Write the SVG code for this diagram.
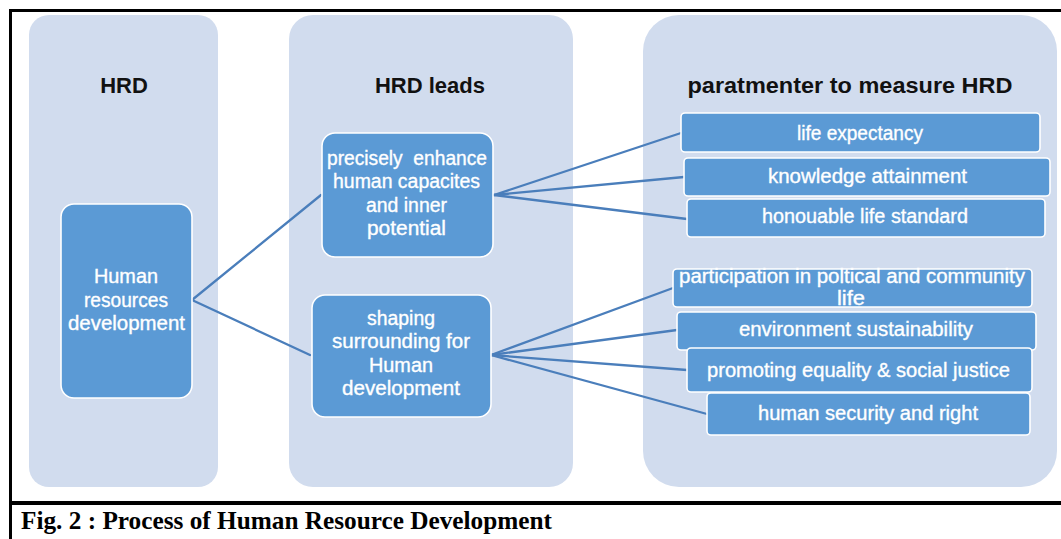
<svg xmlns="http://www.w3.org/2000/svg" width="1061" height="539" viewBox="0 0 1061 539">
  <style>
    .panel { fill: #D1DCEE; }
    .head { font-family: "Liberation Sans", Arial, sans-serif; font-weight: bold; font-size: 22px; fill: #111; text-anchor: middle; }
    .node { fill: #5B9AD5; stroke: #FFFFFF; stroke-width: 1.6; }
    .lbl { font-family: "Liberation Sans", Arial, sans-serif; font-size: 19.5px; fill: #FFFFFF; stroke: #FFFFFF; stroke-width: 0.35; text-anchor: middle; }
    .conn line { stroke: #4A7EBB; stroke-width: 2.3; stroke-linecap: round; }
    .frame { stroke: #000; fill: none; }
    .caption { font-family: "Liberation Serif", "Times New Roman", serif; font-weight: bold; font-size: 25px; fill: #000; }
  </style>

  <rect width="1061" height="539" fill="#FFFFFF"/>

  <!-- frame and caption rule -->
  <path class="frame" stroke-width="3" d="M10.5 539 V10.5 H1061"/>
  <line class="frame" stroke-width="4" x1="10" y1="503" x2="1061" y2="503"/>

  <!-- column panels -->
  <g id="panel-hrd">
    <rect class="panel" x="29" y="15" width="189" height="472" rx="20"/>
    <text class="head" x="124" y="93">HRD</text>
  </g>
  <g id="panel-leads">
    <rect class="panel" x="289" y="15" width="284" height="472" rx="24"/>
    <text class="head" x="430" y="93">HRD leads</text>
  </g>
  <g id="panel-measure">
    <rect class="panel" x="643" y="15" width="414" height="472" rx="36"/>
    <text class="head" x="850" y="93" textLength="325" lengthAdjust="spacingAndGlyphs">paratmenter to measure HRD</text>
  </g>

  <!-- connectors -->
  <g id="connectors" class="conn">
    <line x1="192" y1="300" x2="321" y2="195"/>
    <line x1="192" y1="300" x2="310" y2="355"/>
    <line x1="494" y1="195" x2="681" y2="133"/>
    <line x1="494" y1="195" x2="684" y2="177"/>
    <line x1="494" y1="195" x2="687" y2="219"/>
    <line x1="491" y1="355" x2="673" y2="288"/>
    <line x1="491" y1="355" x2="677" y2="330"/>
    <line x1="491" y1="355" x2="687" y2="370"/>
    <line x1="491" y1="355" x2="707" y2="414"/>
  </g>

  <!-- nodes -->
  <g id="node-hr-development">
    <rect class="node" x="61" y="204" width="131" height="194" rx="13"/>
    <text class="lbl" x="126" y="283" textLength="64" lengthAdjust="spacingAndGlyphs">Human</text>
    <text class="lbl" x="126" y="307" textLength="84" lengthAdjust="spacingAndGlyphs">resources</text>
    <text class="lbl" x="126.5" y="330" textLength="117" lengthAdjust="spacingAndGlyphs">development</text>
  </g>
  <g id="node-enhance">
    <rect class="node" x="322" y="133" width="171" height="124" rx="13"/>
    <text class="lbl" x="407" y="165" xml:space="preserve" textLength="160" lengthAdjust="spacingAndGlyphs">precisely  enhance</text>
    <text class="lbl" x="406.5" y="188" textLength="147" lengthAdjust="spacingAndGlyphs">human capacites</text>
    <text class="lbl" x="406.5" y="212" textLength="81" lengthAdjust="spacingAndGlyphs">and inner</text>
    <text class="lbl" x="406.5" y="235" textLength="79" lengthAdjust="spacingAndGlyphs">potential</text>
  </g>
  <g id="node-shaping">
    <rect class="node" x="312" y="295" width="179" height="122" rx="13"/>
    <text class="lbl" x="401" y="325" textLength="68" lengthAdjust="spacingAndGlyphs">shaping</text>
    <text class="lbl" x="401" y="348" textLength="138" lengthAdjust="spacingAndGlyphs">surrounding for</text>
    <text class="lbl" x="401" y="372" textLength="64" lengthAdjust="spacingAndGlyphs">Human</text>
    <text class="lbl" x="401" y="395" textLength="118" lengthAdjust="spacingAndGlyphs">development</text>
  </g>

  <g id="node-life-expectancy">
    <rect class="node" x="681" y="113" width="359" height="39" rx="4"/>
    <text class="lbl" x="860" y="140" textLength="126" lengthAdjust="spacingAndGlyphs">life expectancy</text>
  </g>
  <g id="node-knowledge">
    <rect class="node" x="684" y="158" width="366" height="38" rx="4"/>
    <text class="lbl" x="867.5" y="183" textLength="199" lengthAdjust="spacingAndGlyphs">knowledge attainment</text>
  </g>
  <g id="node-living-standard">
    <rect class="node" x="687" y="199" width="358" height="38" rx="4"/>
    <text class="lbl" x="865" y="223" textLength="206" lengthAdjust="spacingAndGlyphs">honouable life standard</text>
  </g>
  <g id="node-participation">
    <rect class="node" x="673" y="269" width="359" height="38" rx="4"/>
    <text class="lbl" x="852" y="283" textLength="346" lengthAdjust="spacingAndGlyphs">participation in poltical and community</text>
    <text class="lbl" x="851" y="305" textLength="28" lengthAdjust="spacingAndGlyphs">life</text>
  </g>
  <g id="node-environment">
    <rect class="node" x="677" y="312" width="359" height="38" rx="4"/>
    <text class="lbl" x="856" y="336" textLength="234" lengthAdjust="spacingAndGlyphs">environment sustainability</text>
  </g>
  <g id="node-equality">
    <rect class="node" x="687" y="348" width="345" height="44" rx="4"/>
    <text class="lbl" x="858.5" y="377" textLength="303" lengthAdjust="spacingAndGlyphs">promoting equality &amp; social justice</text>
  </g>
  <g id="node-security">
    <rect class="node" x="707" y="393" width="323" height="42" rx="4"/>
    <text class="lbl" x="868" y="420" textLength="220" lengthAdjust="spacingAndGlyphs">human security and right</text>
  </g>

  <text class="caption" x="21" y="529" textLength="531" lengthAdjust="spacingAndGlyphs">Fig. 2 : Process of Human Resource Development</text>
</svg>
